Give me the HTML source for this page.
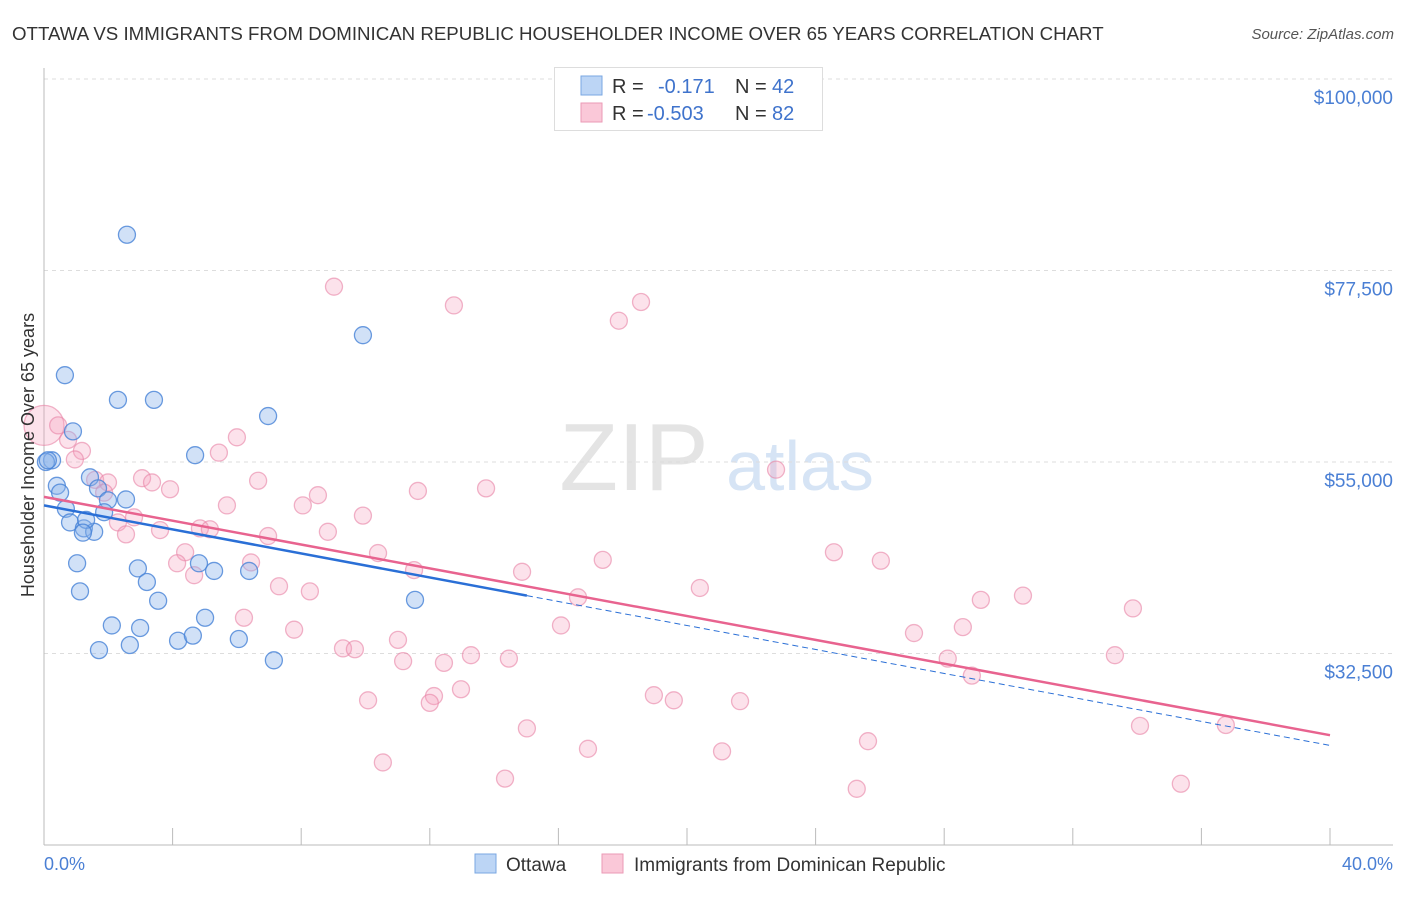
<!DOCTYPE html>
<html><head><meta charset="utf-8"><style>
body{margin:0;background:#fff;font-family:"Liberation Sans",sans-serif;}
svg text{font-family:"Liberation Sans",sans-serif;}
</style></head><body>
<svg id="chart" width="1406" height="892" xmlns="http://www.w3.org/2000/svg">
<text x="12" y="40" font-size="18.7" fill="#333">OTTAWA VS IMMIGRANTS FROM DOMINICAN REPUBLIC HOUSEHOLDER INCOME OVER 65 YEARS CORRELATION CHART</text>
<text x="1394" y="39" font-size="15" fill="#555" font-style="italic" text-anchor="end">Source: ZipAtlas.com</text>
<text x="634" y="490" font-size="96" fill="#e4e4e4" font-family="Liberation Serif" text-anchor="middle">ZIP</text>
<text x="800" y="490" font-size="70" fill="#d6e4f5" text-anchor="middle">atlas</text>
<g id="grid"></g>
<g id="axes"></g>
<g id="points"></g>
<g id="trends"></g>
<text transform="translate(34,455) rotate(-90)" font-size="18" fill="#333" text-anchor="middle">Householder Income Over 65 years</text>
<text x="44" y="870" font-size="18" fill="#4a7fd4">0.0%</text>
<text x="1393" y="870" font-size="18" fill="#4a7fd4" text-anchor="end">40.0%</text>
<g>
<rect x="554.5" y="67.5" width="268" height="63" fill="#fff" stroke="#ddd"/>
<rect x="581" y="76" width="21" height="19" fill="#bcd5f5" stroke="#7aa7e2"/>
<rect x="581" y="103" width="21" height="19" fill="#fac8d8" stroke="#eb9ab6"/>
<text x="612" y="93" font-size="20" fill="#333">R =</text><text x="658" y="93" font-size="20" fill="#3f73cc">-0.171</text>
<text x="735" y="93" font-size="20" fill="#333">N =</text><text x="772" y="93" font-size="20" fill="#3f73cc">42</text>
<text x="612" y="120" font-size="20" fill="#333">R =</text><text x="647" y="120" font-size="20" fill="#3f73cc">-0.503</text>
<text x="735" y="120" font-size="20" fill="#333">N =</text><text x="772" y="120" font-size="20" fill="#3f73cc">82</text>
</g>
<g>
<rect x="475" y="854" width="21" height="19" fill="#bcd5f5" stroke="#7aa7e2"/>
<text x="506" y="871" font-size="19" fill="#333">Ottawa</text>
<rect x="602" y="854" width="21" height="19" fill="#fac8d8" stroke="#eb9ab6"/>
<text x="634" y="871" font-size="19" fill="#333">Immigrants from Dominican Republic</text>
</g>
</svg>
<script>
const yTicks=[100000,77500,55000,32500];
const yTickLabels=["$100,000","$77,500","$55,000","$32,500"];
const xTicks=[0,4,8,12,16,20,24,28,32,36,40];
const ottawaX=[2.58,9.92,0.65,2.30,3.42,6.97,0.90,4.70,0.25,0.06,0.40,0.50,1.43,1.68,2.55,1.99,0.68,1.87,0.81,1.24,1.56,1.31,1.03,2.92,3.20,1.12,3.55,6.38,5.29,4.82,5.01,2.11,2.99,11.54,4.17,4.63,6.06,1.71,2.67,7.15,0.12,1.21];
const ottawaY=[81.7,69.9,65.2,62.3,62.3,60.4,58.6,55.8,55.2,55.0,52.2,51.4,53.2,51.9,50.6,50.5,49.5,49.1,47.9,47.2,46.8,48.2,43.1,42.5,40.9,39.8,38.7,42.2,42.2,43.1,36.7,35.8,35.5,38.8,34.0,34.6,34.2,32.9,33.5,31.7,55.2,46.7];
const domX=[0,0.44,0.75,1.18,0.96,6.00,5.44,1.59,1.99,1.87,3.05,3.36,3.92,2.30,2.55,2.80,3.61,5.69,6.66,4.85,5.16,4.39,4.14,4.67,6.44,6.97,8.05,8.52,8.83,9.92,10.39,11.63,13.75,11.51,9.02,12.75,17.88,18.57,22.77,17.38,14.87,16.61,20.40,16.08,24.57,26.03,29.14,30.45,33.87,27.06,28.58,28.11,28.86,33.31,6.22,7.31,7.78,8.27,9.30,9.67,11.01,11.17,12.44,13.28,14.46,10.08,12.13,12.00,12.97,18.97,19.59,21.65,15.02,34.09,36.76,16.92,21.09,25.63,10.54,14.34,25.28,35.36];
const domY=[59.3,59.3,57.6,56.3,55.3,57.9,56.1,52.9,52.6,51.4,53.1,52.6,51.8,47.9,46.5,48.5,47.0,49.9,52.8,47.2,47.1,44.4,43.1,41.7,43.2,46.3,49.9,51.1,46.8,48.7,44.3,51.6,51.9,42.3,75.6,73.4,71.6,73.8,54.1,43.5,42.1,39.1,40.2,35.8,44.4,43.4,38.8,39.3,37.8,34.9,35.6,31.9,29.9,32.3,36.7,40.4,35.3,39.8,33.1,33.0,34.1,31.6,31.4,32.3,31.9,27.0,27.5,26.7,28.3,27.6,27.0,26.9,23.7,24.0,24.1,21.3,21.0,22.2,19.7,17.8,16.6,17.2];
const ottawaTrend=[49.9,39.3,21.7]; const ottawaTrendX=[0,15.02,40];
const domTrend=[50.9,22.9]; const domTrendX=[0,40];
const NS="http://www.w3.org/2000/svg";
const xs=p=>44+p/40*1286;
const ys=v=>79+(100-v)/22.5*191.5;
function mk(t,a,parent){const e=document.createElementNS(NS,t);for(const k in a)e.setAttribute(k,a[k]);parent.appendChild(e);return e;}
const grid=document.getElementById('grid'),axes=document.getElementById('axes');
yTicks.forEach((v,i)=>{const y=ys(v/1000);
 const l=mk('line',{x1:44,x2:1393,y1:y,y2:y,stroke:'#ddd','stroke-dasharray':'4,4'},grid);
 
 
 const t=mk('text',{x:1393,y:y+25,'font-size':19,fill:'#4a7fd4','text-anchor':'end'},grid);t.textContent=yTickLabels[i];
 
 
});
const ax=mk('line',{x1:44,x2:1393,y1:845,y2:845,stroke:'#bbb'},axes);


const ay=mk('line',{x1:44,x2:44,y1:68,y2:845,stroke:'#bbb'},axes);


xTicks.forEach(p=>{const x=xs(p);const t=mk('line',{x1:x,x2:x,y1:828,y2:845,stroke:'#bbb'},axes);
 
 });
const pts=document.getElementById('points');
domX.forEach((p,i)=>{const c=mk('circle',{cx:xs(p),cy:ys(domY[i]),r:i===0?20:8.5,fill:'rgba(245,160,190,0.3)',stroke:'rgba(232,130,165,0.6)','stroke-width':1.3},pts);
 
 });
ottawaX.forEach((p,i)=>{const c=mk('circle',{cx:xs(p),cy:ys(ottawaY[i]),r:8.5,fill:'rgba(140,180,235,0.4)',stroke:'rgba(70,130,215,0.8)','stroke-width':1.3},pts);
 
 });
const tr=document.getElementById('trends');
const l1=mk('line',{x1:xs(domTrendX[0]),y1:ys(domTrend[0]),x2:xs(domTrendX[1]),y2:ys(domTrend[1]),stroke:'#e8638f','stroke-width':2.5},tr);


const l2=mk('line',{x1:xs(ottawaTrendX[0]),y1:ys(ottawaTrend[0]),x2:xs(ottawaTrendX[1]),y2:ys(ottawaTrend[1]),stroke:'#2a6fd6','stroke-width':2.5},tr);


const l3=mk('line',{x1:xs(ottawaTrendX[1]),y1:ys(ottawaTrend[1]),x2:xs(ottawaTrendX[2]),y2:ys(ottawaTrend[2]),stroke:'#2a6fd6','stroke-width':1,'stroke-dasharray':'6,4'},tr);


</script>
</body></html>
